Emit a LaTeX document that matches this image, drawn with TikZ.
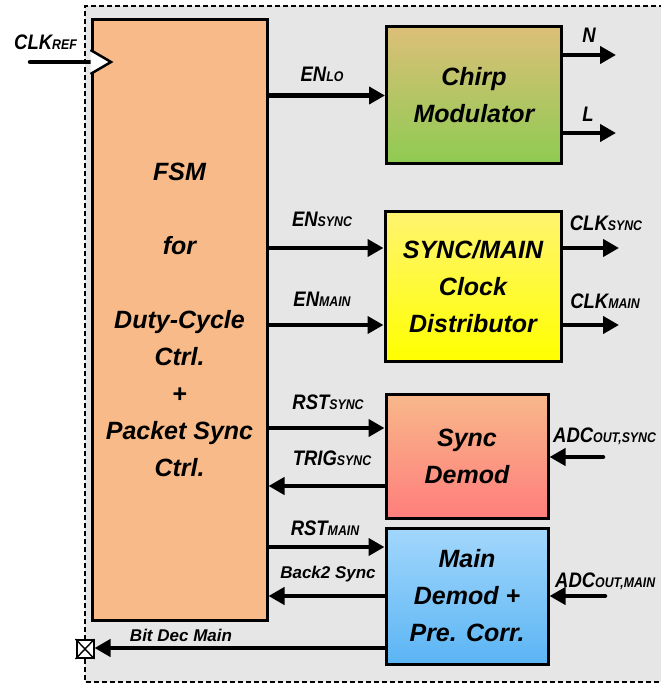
\documentclass[tikz,border=0pt]{standalone}
\usepackage{fontspec}
\setmainfont{Liberation Sans}
\usetikzlibrary{arrows.meta,calc}
\definecolor{bgc}{HTML}{E6E6E6}
\definecolor{fsmc}{HTML}{F7BA88}
\definecolor{chtop}{HTML}{DCBF78}
\definecolor{chbot}{HTML}{8ECB52}
\definecolor{cltop}{HTML}{FFF470}
\definecolor{clbot}{HTML}{FFFF00}
\definecolor{sytop}{HTML}{F8B88A}
\definecolor{sybot}{HTML}{FE7E7C}
\definecolor{matop}{HTML}{A2D7FC}
\definecolor{mabot}{HTML}{5BB5F4}
\newcommand{\boxfont}{\fontsize{25}{37}\selectfont\bfseries\itshape}
\newcommand{\lbl}[2]{\scalebox{0.88}[1]{\bfseries\itshape\fontsize{21}{21}\selectfont #1\fontsize{14}{14}\selectfont #2}}
\newcommand{\smalllbl}[1]{{\bfseries\itshape\fontsize{17}{17}\selectfont #1}}
\begin{document}
\begin{tikzpicture}[x=1pt,y=-1pt,
  box/.style={draw=black, line width=3pt, align=center, font=\boxfont, inner sep=0pt},
  arr/.style={line width=4.5pt, line cap=round, -{Triangle[length=16pt,width=17pt]}},
  plain/.style={line width=4.5pt, line cap=round},
  lab/.style={inner sep=0pt, anchor=base}]
\useasboundingbox (0,0) rectangle (660,684);
% background region
\fill[bgc] (85,6) rectangle (680,682);
\draw[line width=1.2pt, dash pattern=on 5pt off 3pt] (680,6) -- (85,6) -- (85,682) -- (680,682);
% blocks
\node[box, fill=fsmc, minimum width=175pt, minimum height=600pt] (fsm) at (179.5,320)
  {FSM\\[37pt]for\\[37pt]Duty-Cycle\\Ctrl.\\+\\Packet Sync\\Ctrl.};
\node[box, top color=chtop, bottom color=chbot, minimum width=175pt, minimum height=137pt] (chirp) at (474,95.5)
  {Chirp\\Modulator};
\node[box, top color=cltop, bottom color=clbot, minimum width=176pt, minimum height=149pt] (clk) at (473,286.5)
  {SYNC/MAIN\\Clock\\Distributor};
\node[box, top color=sytop, bottom color=sybot, minimum width=162pt, minimum height=124pt] (sync) at (467,456)
  {Sync\\Demod};
\node[box, top color=matop, bottom color=mabot, minimum width=162pt, minimum height=136pt] (main) at (467,596)
  {Main\\Demod +\\Pre. Corr.};
\node[draw=black, line width=2pt, fill=white, minimum width=17pt, minimum height=18pt, inner sep=0pt] (xb) at (85,649) {};
\draw[line width=1.4pt] (xb.north west) -- (xb.south east) (xb.north east) -- (xb.south west);
% clock input
\coordinate (clkin) at (30,62);
\draw[plain] (clkin) -- (fsm.west |- clkin);
\draw[line width=2.5pt, fill=white, line join=miter] (fsm.west |- 0,50) -- (111,62) -- (fsm.west |- 0,74);
% connectors
\draw[arr] (fsm.east |- chirp.west) -- (chirp.west);
\coordinate (nout) at (616,55);
\coordinate (lout) at (616,133);
\draw[arr] (chirp.east |- nout) -- (nout);
\draw[arr] (chirp.east |- lout) -- (lout);
\draw[arr] (fsm.east |- 0,248) -- (clk.west |- 0,248);
\draw[arr] (fsm.east |- 0,325) -- (clk.west |- 0,325);
\coordinate (csout) at (619,248);
\coordinate (cmout) at (619,325);
\draw[arr] (clk.east |- csout) -- (csout);
\draw[arr] (clk.east |- cmout) -- (cmout);
\draw[arr] (fsm.east |- 0,428) -- (sync.west |- 0,428);
\draw[arr] (sync.west |- 0,486) -- (fsm.east |- 0,486);
\coordinate (adcs) at (603,457);
\draw[arr] (adcs) -- (sync.east |- adcs);
\draw[arr] (fsm.east |- 0,547) -- (main.west |- 0,547);
\draw[arr] (main.west |- 0,596) -- (fsm.east |- 0,596);
\coordinate (adcm) at (605,596);
\draw[arr] (adcm) -- (main.east |- adcm);
\draw[arr] (main.west |- 0,648) -- (xb.east |- 0,648);
% labels
\node[lab] (lclk) at (45.5,50) {\lbl{CLK}{REF}};
\node[lab] (llo) at (322,82) {\lbl{EN}{LO}};
\node[lab] (ln) at (589,43) {\lbl{N}{}};
\node[lab] (ll) at (588,122) {\lbl{L}{}};
\node[lab] (lensync) at (322,227) {\lbl{EN}{SYNC}};
\node[lab] (lenmain) at (322,306) {\lbl{EN}{MAIN}};
\node[lab] (lcs) at (606,231) {\lbl{CLK}{SYNC}};
\node[lab] (lcm) at (605,308) {\lbl{CLK}{MAIN}};
\node[lab] (lrs) at (328,409) {\lbl{RST}{SYNC}};
\node[lab] (ltr) at (332,465) {\lbl{TRIG}{SYNC}};
\node[lab, anchor=base west] (lads) at (553,442) {\lbl{ADC}{OUT,SYNC}};
\node[lab] (lrm) at (325,535) {\lbl{RST}{MAIN}};
\node[lab] (lb2s) at (328,578) {\smalllbl{Back2 Sync}};
\node[lab, anchor=base west] (ladm) at (555,587) {\lbl{ADC}{OUT,MAIN}};
\node[lab] (lbit) at (181,641) {\smalllbl{Bit Dec Main}};
\end{tikzpicture}
\end{document}
